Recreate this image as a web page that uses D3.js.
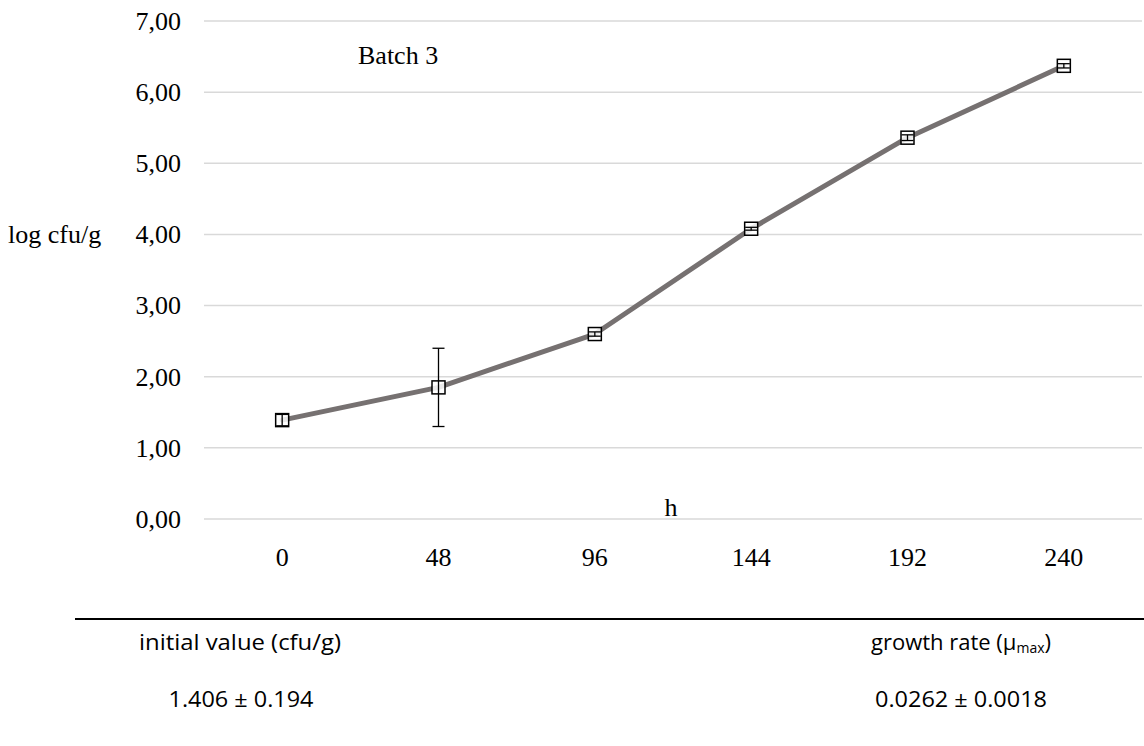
<!DOCTYPE html>
<html>
<head>
<meta charset="utf-8">
<script src="https://cdn.jsdelivr.net/npm/d3@7"></script>
<style>
  html, body { margin: 0; padding: 0; background: #fff; }
  svg { display: block; }
</style>
</head>
<body>
<div id="chart"></div>
<script>
// data
const hours = ["0", "48", "96", "144", "192", "240"];
const logCfu = [1.39, 1.85, 2.60, 4.08, 5.36, 6.37];
const errors = [0.08, 0.55, 0.03, 0.02, 0.04, 0.03];
const yTicks = [0, 1, 2, 3, 4, 5, 6, 7];
const tableHeaders = ["initial value (cfu/g)", "growth rate (μ", "max", ")"];
const tableValues = ["1.406 ± 0.194", "0.0262 ± 0.0018"];

const width = 1144, height = 746;
const margin = {top: 21, right: 2, bottom: 227, left: 204};

const svg = d3.select("#chart").append("svg")
    .attr("width", width)
    .attr("height", height);

const x = d3.scaleBand()
    .domain(hours)
    .range([margin.left, width - margin.right]);

const y = d3.scaleLinear()
    .domain([0, 7])
    .range([height - margin.bottom, margin.top]);

const serif = "'Liberation Serif', 'Times New Roman', serif";
const sans = "'Open Sans', 'Liberation Sans', sans-serif";
const fs = 26;
const tfs = 22;

// gridlines
svg.append("g")
    .selectAll("line")
    .data(yTicks)
    .join("line")
    .attr("x1", margin.left)
    .attr("x2", width - margin.right)
    .attr("y1", d => y(d))
    .attr("y2", d => y(d))
    .attr("stroke", "#d9d9d9")
    .attr("stroke-width", 1.5);

// y axis labels
const yAxis = svg.append("g")
    .attr("transform", `translate(${margin.left - 23},0)`)
    .call(d3.axisLeft(y).tickValues(yTicks).tickSize(0).tickPadding(0)
        .tickFormat(d => d3.format(".2f")(d).replace(".", ",")));
yAxis.select(".domain").remove();
yAxis.selectAll("text")
    .attr("font-family", serif)
    .attr("font-size", fs)
    .attr("fill", "#000");

// x axis labels
const xAxis = svg.append("g")
    .attr("transform", `translate(0,${y(0) + 47})`)
    .call(d3.axisBottom(x).tickSize(0).tickPadding(0));
xAxis.select(".domain").remove();
xAxis.selectAll("text")
    .attr("font-family", serif)
    .attr("font-size", fs)
    .attr("dy", 0)
    .attr("fill", "#000");

const cx = i => x(hours[i]) + x.bandwidth() / 2;

// the line
svg.append("path")
    .datum(logCfu)
    .attr("fill", "none")
    .attr("stroke", "#767171")
    .attr("stroke-width", 5)
    .attr("stroke-linejoin", "round")
    .attr("stroke-linecap", "round")
    .attr("d", d3.line().x((d, i) => cx(i)).y(d => y(d)));

// markers
svg.append("g")
    .selectAll("rect")
    .data(logCfu)
    .join("rect")
    .attr("x", (d, i) => cx(i) - 6.5)
    .attr("y", d => y(d) - 6.5)
    .attr("width", 13)
    .attr("height", 13)
    .attr("fill", "#fff")
    .attr("fill-opacity", 0.85)
    .attr("stroke", "#000")
    .attr("stroke-width", 1.5);

// error bars
const eb = svg.append("g").attr("stroke", "#000").attr("stroke-width", 1.3);
logCfu.forEach((v, i) => {
    const e = errors[i];
    eb.append("line")
        .attr("x1", cx(i)).attr("x2", cx(i))
        .attr("y1", y(v + e)).attr("y2", y(v - e));
    [v + e, v - e].forEach(t => {
        eb.append("line")
            .attr("x1", cx(i) - 6).attr("x2", cx(i) + 6)
            .attr("y1", y(t)).attr("y2", y(t));
    });
});

// titles
svg.append("text")
    .attr("x", 358).attr("y", 64)
    .attr("font-family", serif)
    .attr("font-size", fs)
    .text("Batch 3");

svg.append("text")
    .attr("x", 8).attr("y", 243)
    .attr("font-family", serif)
    .attr("font-size", fs)
    .text("log cfu/g");

svg.append("text")
    .attr("x", 671).attr("y", 516)
    .attr("text-anchor", "middle")
    .attr("font-family", serif)
    .attr("font-size", fs)
    .text("h");

// table below chart
svg.append("line")
    .attr("x1", 75).attr("x2", width)
    .attr("y1", 619).attr("y2", 619)
    .attr("stroke", "#000")
    .attr("stroke-width", 2);

svg.append("text")
    .attr("x", 240).attr("y", 650)
    .attr("text-anchor", "middle")
    .attr("font-family", sans)
    .attr("font-size", tfs)
    .attr("textLength", 202)
    .attr("lengthAdjust", "spacingAndGlyphs")
    .text(tableHeaders[0]);

const gr = svg.append("text")
    .attr("x", 961).attr("y", 650)
    .attr("text-anchor", "middle")
    .attr("font-family", sans)
    .attr("font-size", tfs);
gr.append("tspan").text(tableHeaders[1]);
gr.append("tspan").attr("font-size", 14).attr("dy", 3).text(tableHeaders[2]);
gr.append("tspan").attr("dy", -3).text(tableHeaders[3]);

svg.selectAll(".tv")
    .data(tableValues)
    .join("text")
    .attr("class", "tv")
    .attr("x", (d, i) => i === 0 ? 241 : 961)
    .attr("y", 707)
    .attr("text-anchor", "middle")
    .attr("font-family", sans)
    .attr("font-size", tfs)
    .attr("textLength", (d, i) => i === 0 ? 145 : 172)
    .attr("lengthAdjust", "spacingAndGlyphs")
    .text(d => d);
</script>
</body>
</html>
